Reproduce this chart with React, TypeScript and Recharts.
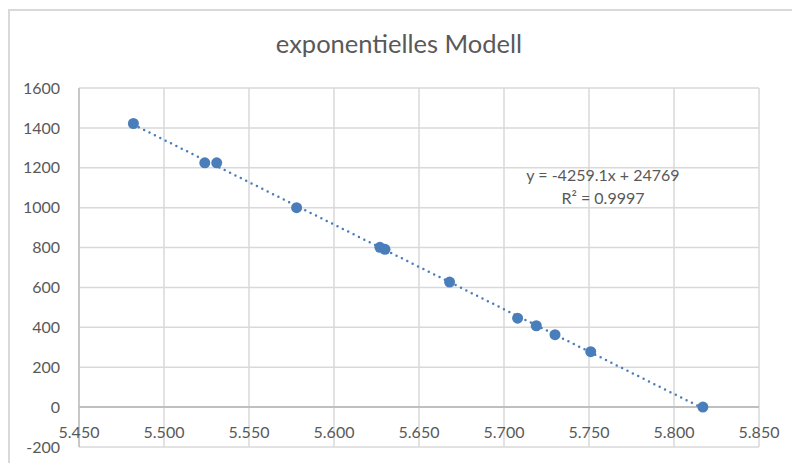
import React from "react";
import {
  ScatterChart,
  Scatter,
  XAxis,
  YAxis,
  CartesianGrid,
  ReferenceLine,
} from "recharts";

// ln-transformed values (x) vs. values (y)
const xValues = [5.482, 5.524, 5.531, 5.578, 5.627, 5.63, 5.668, 5.708, 5.719, 5.73, 5.751, 5.817];
const yValues = [1422, 1225, 1225, 1000, 801, 791, 627, 446, 408, 363, 278, 0];

const xTicks = [5.45, 5.5, 5.55, 5.6, 5.65, 5.7, 5.75, 5.8, 5.85];
const yTicks = [-200, 0, 200, 400, 600, 800, 1000, 1200, 1400, 1600];

const title = "exponentielles Modell";
const equation = "y = -4259.1x + 24769";
const rSquared = "R² = 0.9997";

const points = xValues.map((x, i) => ({ x, y: yValues[i] }));

const BLUE = "#4a7ebb";
const TEXT = "#595959";
const FONT = "Lato, 'Open Sans', sans-serif";

// x labels sit just under the zero line, like Excel does it
function XTick(props: any) {
  const { x, y, payload } = props;
  return (
    <text
      x={x}
      y={y - 15}
      dy="0.35em"
      textAnchor="middle"
      fill={TEXT}
      fontSize={16}
      fontFamily={FONT}
    >
      {Number(payload.value).toFixed(3)}
    </text>
  );
}

const Dot = (props: any) => (
  <circle cx={props.cx} cy={props.cy} r={5.5} fill={BLUE} />
);

export default function App() {
  return (
    <div
      style={{
        position: "absolute",
        left: 0,
        top: 0,
        width: 792,
        height: 463,
        overflow: "hidden",
        background: "#fff",
        fontFamily: FONT,
      }}
    >
      <div
        style={{
          position: "absolute",
          left: 8,
          top: 9,
          width: 820,
          height: 500,
          border: "2px solid #d9d9d9",
        }}
      />
      <div
        style={{
          position: "absolute",
          left: 0,
          width: 798,
          top: 28,
          textAlign: "center",
          fontSize: 25.5,
          color: TEXT,
        }}
      >
        {title}
      </div>
      <ScatterChart
        width={792}
        height={463}
        margin={{ top: 88, right: 33, bottom: 0, left: 19 }}
        style={{ position: "absolute", left: 0, top: 0 }}
      >
        <CartesianGrid stroke="#d9d9d9" strokeWidth={1.5} />
        <XAxis
          type="number"
          dataKey="x"
          domain={[5.45, 5.85]}
          ticks={xTicks}
          height={16}
          tickSize={0}
          tickMargin={0}
          axisLine={false}
          tickLine={false}
          tick={XTick}
          interval={0}
          allowDataOverflow
        />
        <YAxis
          type="number"
          dataKey="y"
          domain={[-200, 1600]}
          ticks={yTicks}
          width={60}
          tickSize={0}
          tickMargin={19}
          axisLine={{ stroke: "#bfbfbf", strokeWidth: 1.5 }}
          tickLine={false}
          interval={0}
          tick={{ fill: TEXT, fontSize: 16, fontFamily: FONT }}
        />
        <ReferenceLine y={0} stroke="#bfbfbf" strokeWidth={2} />
        <Scatter
          data={points}
          fill={BLUE}
          shape={Dot}
          line={{
            stroke: BLUE,
            strokeWidth: 2.5,
            strokeDasharray: "0 6",
            strokeLinecap: "round",
          }}
          lineType="fitting"
          isAnimationActive={false}
        />
      </ScatterChart>
      <div
        style={{
          position: "absolute",
          left: 503,
          width: 200,
          top: 163,
          textAlign: "center",
          fontSize: 16,
          lineHeight: "23px",
          color: TEXT,
        }}
      >
        <div>{equation}</div>
        <div>{rSquared}</div>
      </div>
    </div>
  );
}
